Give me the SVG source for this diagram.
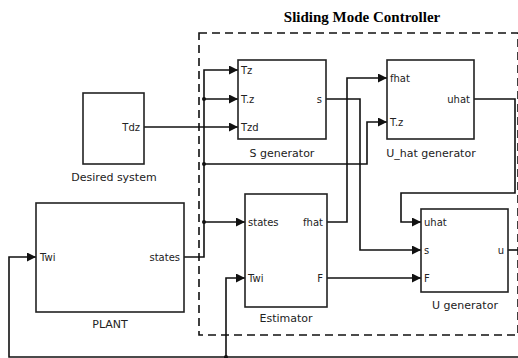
<svg xmlns="http://www.w3.org/2000/svg" width="518" height="358" viewBox="0 0 518 358">
<style>
.blk{fill:#fff;stroke:#222;stroke-width:1.6}
.w{fill:none;stroke:#111;stroke-width:1.6}
.p{font-family:"DejaVu Sans",sans-serif;font-size:10px;fill:#222}
.l{font-family:"DejaVu Sans",sans-serif;font-size:11px;fill:#222;text-anchor:middle}
.d{fill:#111}
</style>
<defs>
<marker id="ar" viewBox="0 0 10 10" refX="10" refY="5" markerWidth="9" markerHeight="9" markerUnits="userSpaceOnUse" orient="auto">
<path d="M0,0 L10,5 L0,10 Z" fill="#111"/>
</marker>
</defs>
<rect width="518" height="358" fill="#fff"/>
<text x="362" y="22" font-family="Liberation Serif,serif" font-weight="bold" font-size="15" text-anchor="middle" fill="#000">Sliding Mode Controller</text>
<rect x="199" y="33" width="319" height="302" fill="none" stroke="#111" stroke-width="1.6" stroke-dasharray="8,5"/>
<g id="connectors">
<path class="w" d="M184,257 H204 V70 H238" marker-end="url(#ar)"/>
<path class="w" d="M204,99 H238" marker-end="url(#ar)"/>
<path class="w" d="M144,127 H238" marker-end="url(#ar)"/>
<path class="w" d="M204,164 H367 V122 H387" marker-end="url(#ar)"/>
<path class="w" d="M204,222 H245" marker-end="url(#ar)"/>
<path class="w" d="M327,222 H347 V78 H387" marker-end="url(#ar)"/>
<path class="w" d="M326,99 H360 V250 H421" marker-end="url(#ar)"/>
<path class="w" d="M474,99 H515 V193 H401 V222 H421" marker-end="url(#ar)"/>
<path class="w" d="M327,278 H421" marker-end="url(#ar)"/>
<path class="w" d="M508,250 H518"/>
<path class="w" d="M518,357 H9 V257 H36" marker-end="url(#ar)"/>
<path class="w" d="M226,357 V278 H245" marker-end="url(#ar)"/>
<circle class="d" cx="204" cy="99" r="2"/>
<circle class="d" cx="204" cy="164" r="2"/>
<circle class="d" cx="204" cy="222" r="2"/>
<circle class="d" cx="226" cy="357" r="2"/>
</g>
<g id="desired">
<rect class="blk" x="83" y="93" width="61" height="71"/>
<text class="p" x="140" y="131" text-anchor="end">Tdz</text>
<text class="l" x="114" y="181">Desired system</text>
</g>
<g id="plant">
<rect class="blk" x="36" y="203" width="148" height="109"/>
<text class="p" x="40" y="261">Twi</text>
<text class="p" x="180" y="261" text-anchor="end">states</text>
<text class="l" x="110" y="328">PLANT</text>
</g>
<g id="sgen">
<rect class="blk" x="238" y="60" width="88" height="79"/>
<text class="p" x="241" y="74">Tz</text>
<text class="p" x="241" y="103">T.z</text>
<text class="p" x="241" y="131">Tzd</text>
<text class="p" x="322" y="103" text-anchor="end">s</text>
<text class="l" x="282" y="157">S generator</text>
</g>
<g id="uhatgen">
<rect class="blk" x="387" y="60" width="87" height="79"/>
<text class="p" x="390" y="82">fhat</text>
<text class="p" x="390" y="126">T.z</text>
<text class="p" x="470" y="103" text-anchor="end">uhat</text>
<text class="l" x="431" y="157">U_hat generator</text>
</g>
<g id="estimator">
<rect class="blk" x="245" y="194" width="82" height="113"/>
<text class="p" x="248" y="226">states</text>
<text class="p" x="248" y="282">Twi</text>
<text class="p" x="323" y="226" text-anchor="end">fhat</text>
<text class="p" x="323" y="282" text-anchor="end">F</text>
<text class="l" x="286" y="322">Estimator</text>
</g>
<g id="ugen">
<rect class="blk" x="421" y="209" width="87" height="83"/>
<text class="p" x="424" y="226">uhat</text>
<text class="p" x="424" y="254">s</text>
<text class="p" x="424" y="282">F</text>
<text class="p" x="504" y="254" text-anchor="end">u</text>
<text class="l" x="465" y="309">U generator</text>
</g>
</svg>
